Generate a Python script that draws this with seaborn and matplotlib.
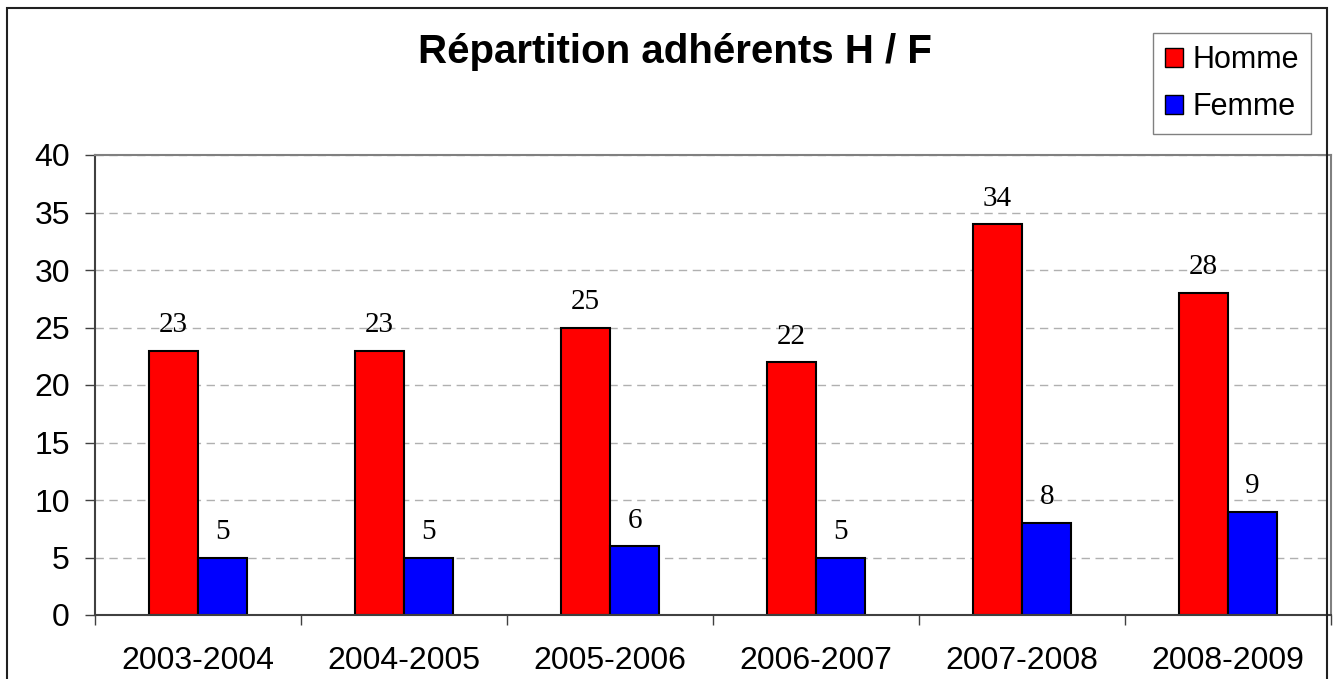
import pandas as pd
import matplotlib
matplotlib.use("Agg")
import matplotlib.pyplot as plt
from matplotlib.patches import Rectangle, Patch
from matplotlib.ticker import MultipleLocator, FixedLocator
import seaborn as sns

saisons = ["2003-2004", "2004-2005", "2005-2006", "2006-2007", "2007-2008", "2008-2009"]
homme = [23, 23, 25, 22, 34, 28]
femme = [5, 5, 6, 5, 8, 9]

df = pd.DataFrame({
    "saison": saisons * 2,
    "nombre": homme + femme,
    "sexe": ["Homme"] * len(saisons) + ["Femme"] * len(saisons),
})

sns.set_style("white")
plt.rcParams["font.family"] = ["Liberation Sans", "DejaVu Sans"]
plt.rcParams["text.color"] = "black"
plt.rcParams["xtick.color"] = "black"
plt.rcParams["ytick.color"] = "black"

fig = plt.figure(figsize=(13.35, 6.79), dpi=100)
W, H = 1335, 679
ax = fig.add_axes([95 / W, 1 - 615 / H, (1331 - 95) / W, (615 - 155) / H])

sns.barplot(data=df, x="saison", y="nombre", hue="sexe", hue_order=["Homme", "Femme"],
            palette={"Homme": "#FF0000", "Femme": "#0000FF"}, width=0.48, gap=0,
            edgecolor="black", linewidth=1.5, saturation=1, ax=ax, legend=False)

for c in ax.containers:
    ax.bar_label(c, padding=9, fontsize=21, family="Liberation Serif", color="black")

ax.set_xlim(-0.5, 5.5)
ax.set_ylim(0, 40)
ax.yaxis.set_major_locator(MultipleLocator(5))
ax.yaxis.grid(True, color="#b0b0b0", linestyle=(0, (6, 4)), linewidth=1)
ax.set_axisbelow(True)
ax.set_xlabel("")
ax.set_ylabel("")

ax.xaxis.set_minor_locator(FixedLocator([i - 0.5 for i in range(len(saisons) + 1)]))
ax.tick_params(axis="x", which="major", length=0, pad=22, labelsize=23)
ax.tick_params(axis="x", which="minor", length=7, width=1, color="#404040", direction="out", bottom=True)
ax.tick_params(axis="y", length=7, width=1, color="#404040", pad=11, labelsize=23, left=True)

for s in ["left", "bottom"]:
    ax.spines[s].set_color("#404040")
    ax.spines[s].set_linewidth(1.5)
for s in ["top", "right"]:
    ax.spines[s].set_color("#808080")
    ax.spines[s].set_linewidth(1.5)

fig.text(675 / W, 1 - 52 / H, "Répartition adhérents H / F", ha="center", va="center",
         fontsize=29, fontweight="bold", color="black")

handles = [Patch(facecolor="#FF0000", edgecolor="black", label="Homme"),
           Patch(facecolor="#0000FF", edgecolor="black", label="Femme")]
leg = fig.legend(handles=handles, loc="upper right", bbox_to_anchor=(1311 / W, 1 - 33 / H),
                 bbox_transform=fig.transFigure, fontsize=22, frameon=True, fancybox=False,
                 handlelength=0.6, handleheight=0.6, handletextpad=0.3, borderpad=0.4,
                 labelspacing=0.55, borderaxespad=0)
leg.get_frame().set_edgecolor("#606060")
leg.get_frame().set_linewidth(1)

fig.patches.append(Rectangle((7 / W, -0.2), (1327 - 7) / W, 1.2 - 8 / H, transform=fig.transFigure,
                             fill=False, edgecolor="#202020", linewidth=1.5, clip_on=False))

fig.savefig("out.png", dpi=100)
